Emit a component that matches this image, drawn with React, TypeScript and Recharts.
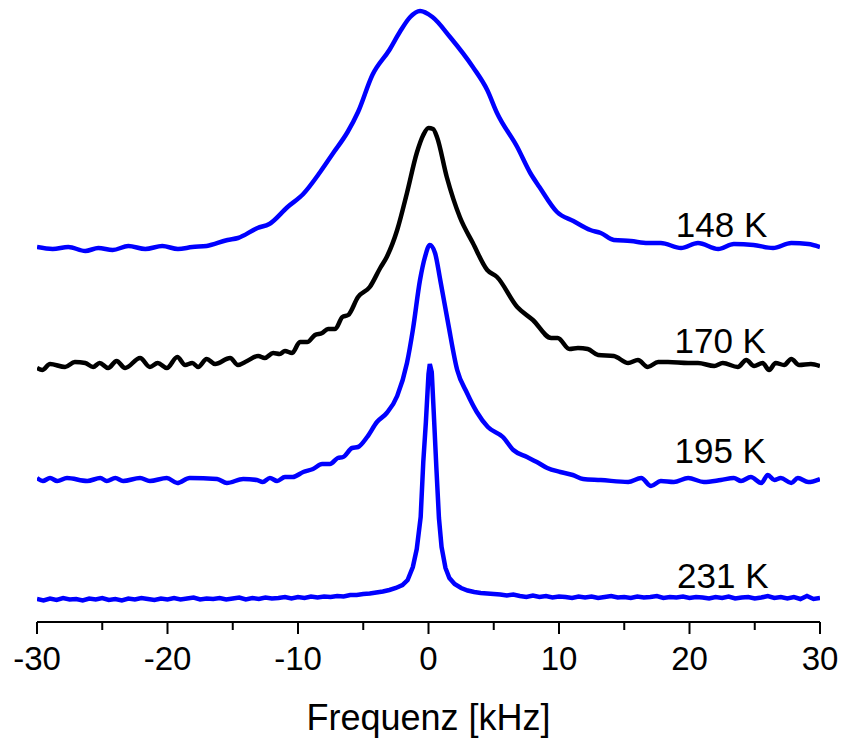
import { LineChart, Line, XAxis, YAxis, ReferenceDot, Label } from "recharts";

// NMR spectra, stacked. Intensities already carry the vertical offset of each trace.
const freqTicks = [-30, -25, -20, -15, -10, -5, 0, 5, 10, 15, 20, 25, 30];

const freq148 = [
  -30, -28.8, -27.6, -26.3, -25.3, -24.2, -23.0, -21.7, -20.4, -19.2, -18.1, -17.0, -15.4, -14.6,
  -13.1, -12.2, -10.8, -9.6, -8.3, -7.3, -6.2, -5.4, -4.3, -3.0, -2.2, -1.4, -0.65, 0.3, 1.65, 3.4,
  4.5, 5.25, 6.8, 7.8, 8.5, 9.85, 11.1, 12.4, 13.2, 14.2, 15.5, 16.8, 17.8, 19.35, 20.65, 22.2, 23.4,
  24.9, 26.4, 27.8, 29.1, 30,
];
const int148 = [
  375, 373, 375, 371, 374, 372, 376, 373, 376, 373, 375, 376, 382, 384, 394, 398, 415, 428, 450, 469,
  490, 510, 547, 572, 590, 605, 611, 605, 585, 555, 532, 509, 475, 449, 435, 410, 401, 392, 389, 382,
  381, 379, 379, 374, 379, 373, 378, 377, 374, 379, 378, 375,
];

const freq170 = [
  -30, -29.6, -29.0, -27.85, -27.1, -26.3, -25.7, -25.2, -24.55, -23.9, -23.25, -22.1, -21.35, -20.75,
  -20.05, -19.25, -18.65, -18.1, -17.65, -17.0, -16.35, -15.2, -14.6, -13.9, -13.05, -12.55, -11.9,
  -11.4, -11.0, -10.45, -9.85, -9.3, -8.7, -8.15, -7.7, -7.15, -6.6, -6.15, -5.4, -4.5, -3.7, -3.2,
  -2.4, -1.65, -0.9, -0.4, 0.0, 0.35, 0.65, 1.4, 2.4, 3.4, 4.5, 5.25, 6.8, 8.0, 9.4, 9.9, 10.8, 11.45,
  12.2, 13.0, 14.2, 15.3, 16.05, 16.8, 17.6, 18.35, 19.9, 20.65, 21.9, 22.55, 23.7, 24.35, 24.95, 25.6,
  26.1, 26.6, 27.25, 27.8, 28.4, 29.3, 30,
];
const int170 = [
  254, 252, 258, 255, 260, 259, 255, 259, 254, 261, 254, 264, 255, 259, 254, 265, 257, 259, 255, 263,
  258, 264, 257, 261, 266, 264, 269, 268, 271, 269, 280, 280, 287, 289, 293, 293, 305, 307, 325, 335,
  354, 365, 392, 429, 469, 487, 494, 493, 485, 445, 405, 379, 352, 345, 315, 302, 284, 284, 273, 274,
  273, 267, 266, 259, 262, 255, 260, 260, 259, 259, 256, 259, 255, 262, 256, 259, 252, 259, 257, 263,
  257, 258, 256,
];

const freq195 = [
  -30, -29.55, -29.0, -28.45, -27.7, -26.15, -25.15, -24.65, -24.0, -23.4, -22.1, -21.35, -20.05,
  -19.25, -18.3, -16.2, -15.45, -14.2, -13.15, -12.7, -12.15, -11.6, -11.0, -10.4, -9.6, -8.85, -8.15,
  -7.55, -6.95, -6.55, -5.85, -5.4, -4.7, -3.95, -3.2, -2.4, -1.65, -1.2, -0.65, -0.27, 0.1, 0.5, 0.9,
  1.5, 2.2, 2.95, 3.7, 4.55, 5.7, 6.5, 7.55, 8.3, 9.1, 10.1, 11.05, 11.85, 13.2, 15.3, 16.3, 17.05,
  17.8, 18.8, 19.9, 21.1, 22.4, 23.4, 23.95, 24.7, 25.5, 26.0, 26.5, 27.0, 27.8, 28.3, 29.1, 30,
];
const int195 = [
  144, 141, 144, 141, 144, 141, 144, 141, 144, 141, 144, 141, 144, 139, 144, 143, 139, 143, 142, 140,
  144, 141, 145, 145, 150, 153, 158, 158, 164, 165, 174, 175, 185, 200, 209, 226, 259, 292, 342, 365,
  377, 369, 342, 299, 252, 229, 210, 195, 185, 172, 165, 160, 154, 150, 147, 143, 142, 140, 144, 136,
  141, 140, 144, 140, 142, 144, 141, 145, 139, 147, 142, 144, 139, 144, 140, 143,
];

const freq231 = [
  -30, -29.5, -29, -28.5, -28, -27.5, -27, -26.5, -26, -25.5, -25, -24.5, -24, -23.5, -23, -22.5, -22,
  -21.5, -21, -20.5, -20, -19.5, -19, -18.5, -18, -17.5, -17, -16.5, -16, -15.5, -15, -14.5, -14,
  -13.5, -13, -12.5, -12, -11.5, -11, -10.5, -10, -9.5, -9, -8.5, -8, -7.5, -7, -6.5, -6, -5.5, -5,
  -4.5, -4, -3.5, -3, -2.5, -2, -1.6, -1.2, -0.9, -0.6, -0.4, -0.2, 0, 0.1, 0.25, 0.4, 0.6, 0.8, 1.0,
  1.3, 1.6, 2.0, 2.5, 3.0, 3.5, 4, 4.5, 5, 5.5, 6, 6.5, 7, 7.5, 8, 8.5, 9, 9.5, 10, 10.5, 11, 11.5, 12,
  12.5, 13, 13.5, 14, 14.5, 15, 15.5, 16, 16.5, 17, 17.5, 18, 18.5, 19, 19.5, 20, 20.5, 21, 21.5, 22,
  22.5, 23, 23.5, 24, 24.5, 25, 25.5, 26, 26.5, 27, 27.5, 28, 28.5, 29, 29.5, 30,
];
const int231 = [
  23, 21.5, 23.5, 22, 24, 22.5, 23, 21.5, 23.5, 22.5, 24, 22, 23, 21.5, 23.5, 22.5, 24, 23, 22, 23.5,
  22.5, 24, 22.5, 23.5, 24.5, 22.5, 23.5, 23, 24, 22.5, 23.5, 24.5, 22.5, 24, 23, 24.5, 23.5, 24, 25,
  23.5, 25, 24, 25.5, 24.5, 25.5, 25, 26, 25.5, 27, 27, 28, 28.5, 29.5,
  30.5, 32, 34, 37, 42, 55, 73, 105, 160, 200, 248, 258, 250, 210, 155, 104, 75, 54, 44, 38, 34, 31.5, 30,
  29, 28.5, 28, 27.5, 26.5, 27.5, 26, 25, 26.5, 25, 26, 24.5, 25.5, 25, 24, 25.5, 24.5, 25.5, 24, 25,
  26, 24.5, 25, 24, 25.5, 24.5, 25, 26, 24, 25, 24.5, 25.5, 24, 25, 24.5, 23.5, 25, 24, 25.5, 23.5,
  24.5, 25, 23.5, 24.5, 26, 24, 25, 23.5, 25, 23, 26, 23, 24,
];

const toPoints = (freq: number[], intensity: number[]) =>
  freq.map((k, i) => ({ k, v: intensity[i] }));

const spectra = [
  { name: "148 K", color: "#0000ff", curve: "monotone", data: toPoints(freq148, int148) },
  { name: "170 K", color: "#000000", curve: "monotone", data: toPoints(freq170, int170) },
  { name: "195 K", color: "#0000ff", curve: "monotone", data: toPoints(freq195, int195) },
  { name: "231 K", color: "#0000ff", curve: "linear", data: toPoints(freq231, int231) },
];

const FONT = "'Liberation Sans', Arial, sans-serif";

function FreqTick(props: any) {
  const { x, y, payload } = props;
  const major = payload.value % 10 === 0;
  return (
    <g>
      <line x1={x} x2={x} y1={y} y2={y + (major ? 12 : 8)} stroke="#000" strokeWidth={2} />
      {major && (
        <text x={x} y={y + 48} textAnchor="middle" fontSize={33} fontFamily={FONT} fill="#000">
          {payload.value}
        </text>
      )}
    </g>
  );
}

const traceLabel = (text: string) => (p: any) => (
  <text x={p.cx} y={p.cy} fontSize={35} fontFamily={FONT} fill="#000">
    {text}
  </text>
);

export default function App() {
  return (
    <div style={{ position: "absolute", left: 0, top: 0, background: "#fff" }}>
      <LineChart width={842} height={739} margin={{ top: 2, right: 22, bottom: 0, left: 37 }}>
        <XAxis
          dataKey="k"
          type="number"
          domain={[-30, 30]}
          ticks={freqTicks}
          interval={0}
          allowDataOverflow
          height={117}
          tickSize={0}
          tickMargin={0}
          tickLine={false}
          axisLine={{ stroke: "#000", strokeWidth: 2 }}
          tick={<FreqTick />}
        >
          <Label
            value="Frequenz [kHz]"
            position="insideBottom"
            offset={9}
            fontSize={36}
            fontFamily={FONT}
            fill="#000"
          />
        </XAxis>
        <YAxis hide type="number" domain={[0, 620]} allowDataOverflow />
        {spectra.map((s) => (
          <Line
            key={s.name}
            data={s.data}
            dataKey="v"
            type={s.curve as any}
            stroke={s.color}
            strokeWidth={4.5}
            dot={false}
            isAnimationActive={false}
          />
        ))}
        <ReferenceDot x={18.95} y={385} r={0} shape={traceLabel("148 K")} />
        <ReferenceDot x={18.85} y={269} r={0} shape={traceLabel("170 K")} />
        <ReferenceDot x={18.85} y={159} r={0} shape={traceLabel("195 K")} />
        <ReferenceDot x={19.05} y={34} r={0} shape={traceLabel("231 K")} />
      </LineChart>
    </div>
  );
}
